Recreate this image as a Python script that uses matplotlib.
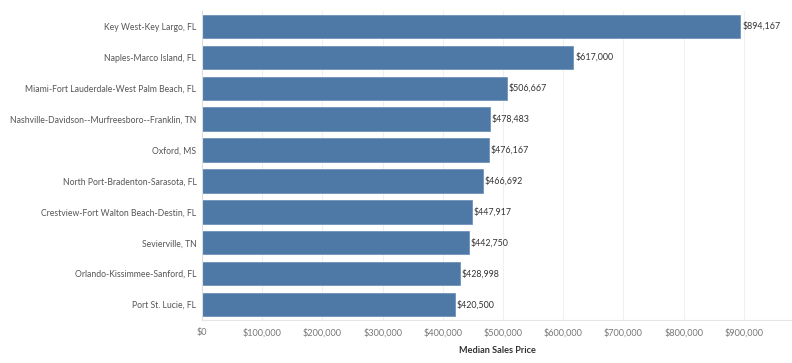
import matplotlib
matplotlib.use("Agg")
import matplotlib.pyplot as plt
from matplotlib.ticker import FuncFormatter

metros = [
    "Key West-Key Largo, FL",
    "Naples-Marco Island, FL",
    "Miami-Fort Lauderdale-West Palm Beach, FL",
    "Nashville-Davidson--Murfreesboro--Franklin, TN",
    "Oxford, MS",
    "North Port-Bradenton-Sarasota, FL",
    "Crestview-Fort Walton Beach-Destin, FL",
    "Sevierville, TN",
    "Orlando-Kissimmee-Sanford, FL",
    "Port St. Lucie, FL",
]
median_price = [894167, 617000, 506667, 478483, 476167, 466692, 447917, 442750, 428998, 420500]
x_ticks = [0, 100000, 200000, 300000, 400000, 500000, 600000, 700000, 800000, 900000]

plt.rcParams["font.family"] = ["Lato", "DejaVu Sans"]

fig = plt.figure(figsize=(7.92, 3.63), dpi=100)
ax = fig.add_axes([202 / 792, 43 / 363, 590 / 792, 309 / 363])

y = list(range(len(metros)))
ax.barh(y, median_price, height=0.76, color="#4e79a7", edgecolor="#6f93bb", linewidth=0.6, zorder=2)
for yi, v in zip(y, median_price):
    ax.text(v + 3000, yi, f"${v:,}", va="center", ha="left", fontsize=6.4, color="#333333")

ax.set_ylim(len(metros) - 0.5, -0.5)
ax.set_xlim(0, 980000)
ax.set_yticks(y)
ax.set_yticklabels(metros, fontsize=6.2, color="#555555")
ax.set_xticks(x_ticks)
ax.xaxis.set_major_formatter(FuncFormatter(lambda v, p: f"${int(v):,}"))
ax.tick_params(axis="x", labelsize=6.6, labelcolor="#777777", length=0, pad=6)
ax.tick_params(axis="y", length=0, pad=4)
ax.grid(axis="x", color="#f0f0f0", linewidth=0.8, zorder=0)

for s in ["top", "right"]:
    ax.spines[s].set_visible(False)
ax.spines["left"].set_color("#dddddd")
ax.spines["bottom"].set_color("#e6e6e6")
ax.spines["left"].set_linewidth(0.8)
ax.spines["bottom"].set_linewidth(0.8)

ax.set_xlabel("Median Sales Price", fontsize=6.6, fontweight="bold", color="#333333", labelpad=6)

fig.savefig("out.png", dpi=100)
